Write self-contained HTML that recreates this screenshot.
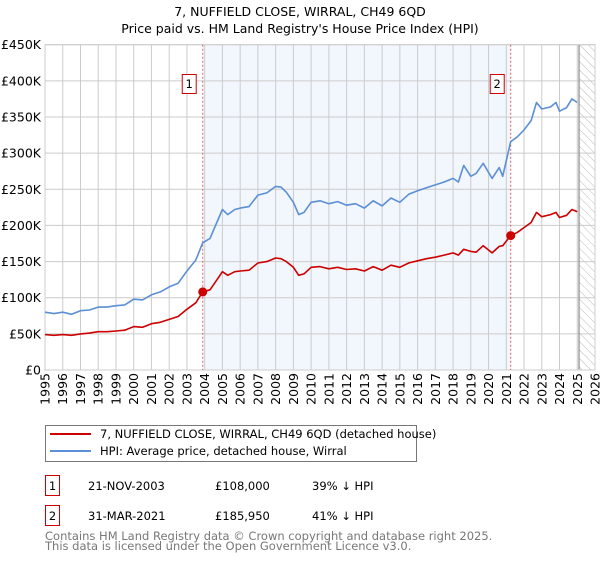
<!DOCTYPE html>
<html><head><meta charset="utf-8"><style>
body{margin:0;background:#fff;font-family:"DejaVu Sans","Liberation Sans",sans-serif;}
svg text{font-family:"DejaVu Sans","Liberation Sans",sans-serif;}
</style></head><body>
<svg id="chart" width="600" height="560" xmlns="http://www.w3.org/2000/svg">
<defs><pattern id="hatch" width="6" height="6" patternUnits="userSpaceOnUse" patternTransform="rotate(-45)"><line x1="0" y1="0" x2="0" y2="6" stroke="#bbb" stroke-width="1"/></pattern></defs>
<text x="300" y="16" text-anchor="middle" font-size="12.5" fill="#000">7, NUFFIELD CLOSE, WIRRAL, CH49 6QD</text>
<text x="300" y="33" text-anchor="middle" font-size="12.5" fill="#000">Price paid vs. HM Land Registry's House Price Index (HPI)</text>
<g id="plot"></g>
<g>
<rect x="45.5" y="425.5" width="371" height="36" fill="#fff" stroke="#777"/>
<line x1="50" y1="434" x2="91" y2="434" stroke="#cc0000" stroke-width="2"/>
<text x="100" y="438" font-size="11.5">7, NUFFIELD CLOSE, WIRRAL, CH49 6QD (detached house)</text>
<line x1="50" y1="451" x2="91" y2="451" stroke="#5b8fd6" stroke-width="2"/>
<text x="100" y="455" font-size="11.5">HPI: Average price, detached house, Wirral</text>
</g>
<g font-size="11.5">
<rect x="45.5" y="475.5" width="14" height="20" fill="#fff" stroke="#cc0000"/>
<text x="52.5" y="490" text-anchor="middle">1</text>
<text x="88" y="490">21-NOV-2003</text>
<text x="215" y="490">£108,000</text>
<text x="312" y="490">39% ↓ HPI</text>
<rect x="45.5" y="505.5" width="14" height="20" fill="#fff" stroke="#cc0000"/>
<text x="52.5" y="520" text-anchor="middle">2</text>
<text x="88" y="520">31-MAR-2021</text>
<text x="215" y="520">£185,950</text>
<text x="312" y="520">41% ↓ HPI</text>
</g>
<text x="45" y="540" font-size="11.5" fill="#777">Contains HM Land Registry data © Crown copyright and database right 2025.</text>
<text x="45" y="550" font-size="11.5" fill="#777">This data is licensed under the Open Government Licence v3.0.</text>
</svg>
<script>
const yTicks=[0,50,100,150,200,250,300,350,400,450];
const yTickLabels=["£0","£50K","£100K","£150K","£200K","£250K","£300K","£350K","£400K","£450K"];
const xYears=[1995,1996,1997,1998,1999,2000,2001,2002,2003,2004,2005,2006,2007,2008,2009,2010,2011,2012,2013,2014,2015,2016,2017,2018,2019,2020,2021,2022,2023,2024,2025,2026];
const hpiDates=[1995,1995.5,1996,1996.5,1997,1997.5,1998,1998.5,1999,1999.5,2000,2000.5,2001,2001.5,2002,2002.5,2003,2003.5,2003.89,2004.3,2004.7,2005,2005.3,2005.7,2006,2006.5,2007,2007.5,2008,2008.3,2008.6,2009,2009.3,2009.6,2010,2010.5,2011,2011.5,2012,2012.5,2013,2013.5,2014,2014.5,2015,2015.5,2016,2016.5,2017,2017.5,2018,2018.3,2018.6,2019,2019.3,2019.7,2020.2,2020.6,2020.8,2021.25,2021.6,2022,2022.4,2022.7,2023,2023.5,2023.8,2024,2024.4,2024.7,2025];
const hpiValues=[80,78,80,77,82,83,87,87,89,90,98,97,104,108,115,120,137,152,176,182,205,222,215,222,224,226,242,245,254,253,246,232,215,218,232,234,230,233,228,230,224,234,227,238,232,243,248,252,256,260,265,260,283,268,272,286,265,280,268,316,322,332,345,370,361,364,370,358,363,375,370];
const propValues=[49,48,49,48,50,51,53,53,54,55,60,59,64,66,70,74,84,93,108,111,125,136,131,136,137,138,148,150,155,154,150,142,131,133,142,143,140,142,139,140,137,143,138,145,142,148,151,154,156,159,162,159,167,164,163,172,162,171,172,186,190,197,204,218,212,215,218,211,214,222,219];
const saleDates=[2003.89,2021.25];
const salePrices=[108,185.95];
const saleLabels=["1","2"];
const shadeRange=[2003.89,2021.25];
const forecastStart=2025.1;

const L=45,R=595,T=44.7,B=370,ymax=450,x0=1995,x1=2026;
const X=v=>L+(v-x0)/(x1-x0)*(R-L);
const Y=v=>B-v/ymax*(B-T);
const NS="http://www.w3.org/2000/svg";
const g=document.getElementById('plot');
function mk(tag,attrs){const e=document.createElementNS(NS,tag);for(const k in attrs)e.setAttribute(k,attrs[k]);g.appendChild(e);return e;}

let e=mk('rect',{x:X(shadeRange[0]),y:T,width:X(shadeRange[1])-X(shadeRange[0]),height:B-T,fill:'#eef3fc',opacity:0.75});


e=mk('rect',{x:X(forecastStart),y:T,width:R-X(forecastStart),height:B-T,fill:'url(#hatch)'});


yTicks.forEach((t,i)=>{
 let l=mk('line',{x1:L,x2:R,y1:Y(t),y2:Y(t),stroke:'#ccc','stroke-width':1});
 
 
 let tx=mk('text',{x:L-4,y:Y(t)+4.5,'text-anchor':'end','font-size':12.5});
 tx.textContent=yTickLabels[i];
 
 
});
xYears.forEach(yr=>{
 let l=mk('line',{x1:X(yr),x2:X(yr),y1:T,y2:B,stroke:'#ccc','stroke-width':1});
 
 
 let tx=mk('text',{x:0,y:0,'text-anchor':'end','font-size':12.5,transform:`translate(${X(yr)+4.5},${B+3}) rotate(-90)`});
 tx.textContent=yr;
 
 
});
e=mk('line',{x1:X(forecastStart),x2:X(forecastStart),y1:T,y2:B,stroke:'#888','stroke-width':1.2});


e=mk('rect',{x:L,y:T,width:R-L,height:B-T,fill:'none',stroke:'#ccc'});


saleDates.forEach((d,i)=>{
 let l=mk('line',{x1:X(d),x2:X(d),y1:T,y2:B,stroke:'#e06060','stroke-width':1,'stroke-dasharray':'2,2'});
 
 
 let r=mk('rect',{x:X(d)-20.5,y:74.5,width:14,height:19,fill:'#fff',stroke:'#cc0000'});
 
 
 let t=mk('text',{x:X(d)-13.5,y:88,'text-anchor':'middle','font-size':11.5});
 t.textContent=saleLabels[i];
 
 
});
const pts=v=>hpiDates.map((d,i)=>X(d).toFixed(1)+','+Y(v[i]).toFixed(1)).join(' ');
e=mk('polyline',{points:pts(hpiValues),fill:'none',stroke:'#5b8fd6','stroke-width':1.6,'stroke-linejoin':'round'});


e=mk('polyline',{points:pts(propValues),fill:'none',stroke:'#cc0000','stroke-width':1.6,'stroke-linejoin':'round'});


saleDates.forEach((d,i)=>{
 let c=mk('circle',{cx:X(d),cy:Y(salePrices[i]),r:4.5,fill:'#cc0000'});
 
 
});
</script>
</body></html>
